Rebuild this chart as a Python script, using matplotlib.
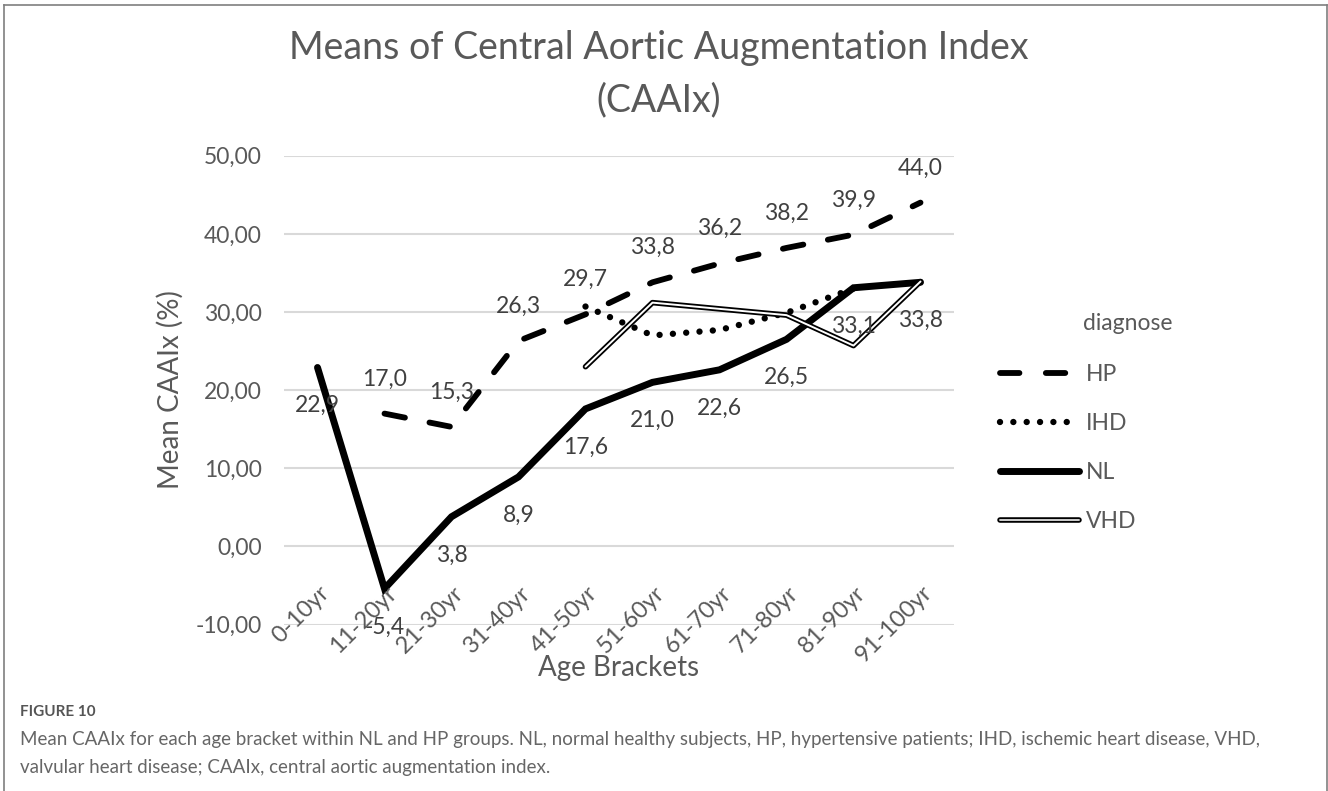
import matplotlib
matplotlib.use("Agg")
import matplotlib.pyplot as plt
from matplotlib.lines import Line2D
from matplotlib.ticker import FuncFormatter, MultipleLocator
import numpy as np

# ---------------- data ----------------
categories = ["0-10yr", "11-20yr", "21-30yr", "31-40yr", "41-50yr",
              "51-60yr", "61-70yr", "71-80yr", "81-90yr", "91-100yr"]
hp  = [np.nan, 17.0, 15.3, 26.3, 29.7, 33.8, 36.2, 38.2, 39.9, 44.0]
ihd = [np.nan, np.nan, np.nan, np.nan, 30.7, 27.0, 27.7, 29.9, 33.0, np.nan]
nl  = [22.9, -5.4, 3.8, 8.9, 17.6, 21.0, 22.6, 26.5, 33.1, 33.8]
vhd = [np.nan, np.nan, np.nan, np.nan, 23.0, 31.2, 30.4, 29.6, 25.7, 33.9]
series_names = ["HP", "IHD", "NL", "VHD"]

FONT = "Lato"
TXT = "#404040"
plt.rcParams["font.family"] = [FONT, "DejaVu Sans"]
plt.rcParams["lines.scale_dashes"] = False

W, H = 1328, 791
fig = plt.figure(figsize=(W / 100, H / 100), dpi=100)
L, R, T, B = 284, 954, 155.7, 624.6
ax = fig.add_axes([L / W, 1 - B / H, (R - L) / W, (B - T) / H])

x = np.arange(len(categories))

# grid
ax.set_ylim(-10, 50)
ax.set_xlim(-0.5, len(categories) - 0.5)
ax.yaxis.set_major_locator(MultipleLocator(10))
ax.grid(axis="y", color="#d9d9d9", lw=1.5)
ax.set_axisbelow(True)
for s in ax.spines.values():
    s.set_visible(False)
ax.tick_params(axis="both", length=0)
ax.yaxis.set_major_formatter(FuncFormatter(lambda v, p: f"{v:.2f}".replace(".", ",")))
ax.tick_params(axis="y", labelsize=16.5, labelcolor="#595959", pad=16)
ax.set_xticks(x)
ax.set_xticklabels([])

# lines
l_hp, = ax.plot(x, hp, color="black", lw=4.2, solid_capstyle="round",
                dash_capstyle="round", dashes=(15, 18), zorder=3)
l_ihd, = ax.plot(x, ihd, color="black", lw=4.6, dash_capstyle="round",
                 dashes=(0.01, 9.6), zorder=3)
l_nl, = ax.plot(x, nl, color="black", lw=5.0, solid_capstyle="round",
                solid_joinstyle="miter", zorder=4)
l_vhd_o, = ax.plot(x, vhd, color="black", lw=4.0, solid_capstyle="round", zorder=5)
l_vhd_i, = ax.plot(x, vhd, color="white", lw=1.4, solid_capstyle="round", zorder=6)

# data labels
def fmt(v):
    return f"{v:.1f}".replace(".", ",")

for xi, v in zip(x, hp):
    if not np.isnan(v):
        ax.annotate(fmt(v), (xi, v), xytext=(0, 25), textcoords="offset points",
                    ha="center", va="center", fontsize=16.5, color=TXT, zorder=7)
for xi, v in zip(x, nl):
    if not np.isnan(v):
        ax.annotate(fmt(v), (xi, v), xytext=(0, -27.5), textcoords="offset points",
                    ha="center", va="center", fontsize=16.5, color=TXT, zorder=7)

# rotated category labels
for xi, c in zip(x, categories):
    ax.text(xi + 0.13, -5.5, c, rotation=45, rotation_mode="anchor",
            ha="right", va="center", fontsize=17, color="#595959", zorder=8)

# axis titles
fig.text(619 / W, 1 - 668 / H, "Age Brackets", ha="center", va="center",
         fontsize=20, color="#595959")
fig.text(170 / W, 1 - 390 / H, "Mean CAAIx (%)", ha="center", va="center",
         rotation=90, fontsize=20, color="#595959")

# title
fig.text(659 / W, 1 - 48 / H, "Means of Central Aortic Augmentation Index",
         ha="center", va="center", fontsize=27, color="#595959")
fig.text(659 / W, 1 - 100 / H, "(CAAIx)",
         ha="center", va="center", fontsize=27, color="#595959")

# legend
fig.text(1083 / W, 1 - 323 / H, "diagnose", ha="left", va="center",
         fontsize=16.5, color="#595959")
h_hp = Line2D([], [], color="black", lw=4.2, dash_capstyle="round", dashes=(14, 19))
h_ihd = Line2D([], [], color="black", lw=4.6, dash_capstyle="round", dashes=(0.01, 9.6))
h_nl = Line2D([], [], color="black", lw=5.0, solid_capstyle="round")
h_vo = Line2D([], [], color="black", lw=4.0, solid_capstyle="round")
h_vi = Line2D([], [], color="#d0d0d0", lw=1.4, solid_capstyle="round")
leg = fig.legend([h_hp, h_ihd, h_nl, (h_vo, h_vi)], series_names,
                 loc="upper left", bbox_to_anchor=(1000 / W, 1 - 364 / H),
                 frameon=False, fontsize=16.5, handlelength=3.45,
                 handletextpad=0.3, labelspacing=1.22, borderpad=0,
                 borderaxespad=0)
for t in leg.get_texts():
    t.set_color("#595959")

# caption
fig.text(20 / W, 1 - 712 / H, "FIGURE 10", ha="left", va="center",
         fontsize=11, fontweight="bold", color="#555555")
fig.text(20 / W, 1 - 740 / H,
         "Mean CAAIx for each age bracket within NL and HP groups. NL, normal healthy subjects, HP, hypertensive patients; IHD, ischemic heart disease, VHD,",
         ha="left", va="center", fontsize=13.5, color="#666666")
fig.text(20 / W, 1 - 767 / H,
         "valvular heart disease; CAAIx, central aortic augmentation index.",
         ha="left", va="center", fontsize=13.5, color="#666666")

# frame
fc = "#7f7f7f"
fig.add_artist(Line2D([4 / W, 4 / W], [0, 1 - 5 / H], color=fc, lw=1.2, transform=fig.transFigure))
fig.add_artist(Line2D([4 / W, 1327 / W], [1 - 5 / H, 1 - 5 / H], color=fc, lw=1.2, transform=fig.transFigure))
fig.add_artist(Line2D([1326.5 / W, 1326.5 / W], [0, 1 - 5 / H], color=fc, lw=1.2, transform=fig.transFigure))

fig.savefig("out.png", dpi=100)
